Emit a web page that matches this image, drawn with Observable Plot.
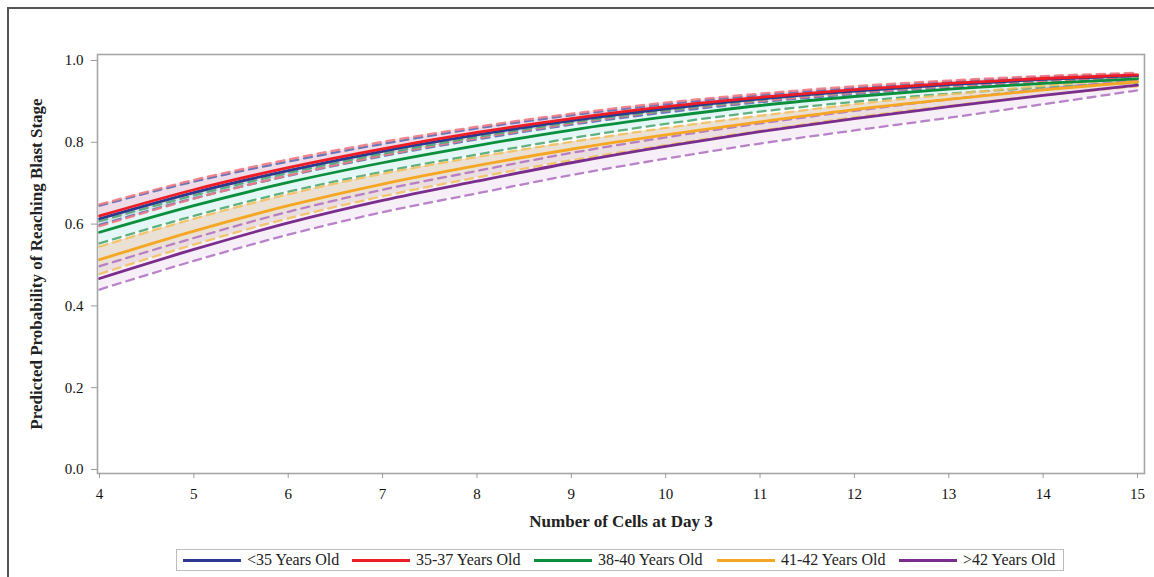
<!DOCTYPE html>
<html>
<head>
<meta charset="utf-8">
<script src="https://cdn.jsdelivr.net/npm/d3@7"></script>
<script src="https://cdn.jsdelivr.net/npm/@observablehq/plot@0.6"></script>
<style>
  html, body { margin: 0; padding: 0; background: #fff; }
  #wrap { position: relative; width: 1154px; height: 577px; overflow: hidden; background: #fff; font-family: 'Liberation Serif', 'Times New Roman', serif; }
  #border { position: absolute; left: 7px; top: 7px; right: -10px; bottom: -10px; border-left: 2px solid #555; border-top: 2px solid #555; }
  #chart { position: absolute; left: 0; top: 0; }
  #legend { position: absolute; left: 176px; top: 549px; width: 888px; height: 22px; border: 1px solid #bdbdbd; box-sizing: border-box; font-size: 16px; color: #222; }
  .item { position: absolute; top: 0; height: 20px; display: flex; align-items: center; white-space: nowrap; }
  .sw { width: 58px; height: 3px; margin-right: 6px; }
</style>
</head>
<body>
<div id="wrap">
  <div id="border"></div>
  <div id="chart"></div>
  <div id="legend"></div>
</div>
<script>
// ---- data ----
const xs = [4, 5, 6, 7, 8, 9, 10, 11, 12, 13, 14, 15];
const xTicks = [4, 5, 6, 7, 8, 9, 10, 11, 12, 13, 14, 15];
const yTicks = [0, 0.2, 0.4, 0.6, 0.8, 1.0];
const groups = ["<35 Years Old", "35-37 Years Old", "38-40 Years Old", "41-42 Years Old", ">42 Years Old"];

const meanLt35  = [0.613, 0.677, 0.731, 0.778, 0.818, 0.853, 0.882, 0.906, 0.925, 0.941, 0.954, 0.963];
const lowerLt35 = [0.598, 0.663, 0.718, 0.766, 0.807, 0.843, 0.873, 0.898, 0.918, 0.935, 0.948, 0.958];
const upperLt35 = [0.645, 0.704, 0.753, 0.796, 0.834, 0.866, 0.893, 0.915, 0.933, 0.948, 0.960, 0.968];

const mean3537  = [0.620, 0.684, 0.738, 0.784, 0.824, 0.858, 0.887, 0.910, 0.929, 0.944, 0.956, 0.965];
const lower3537 = [0.595, 0.662, 0.719, 0.768, 0.810, 0.846, 0.877, 0.901, 0.921, 0.937, 0.950, 0.959];
const upper3537 = [0.648, 0.708, 0.758, 0.801, 0.838, 0.870, 0.897, 0.919, 0.937, 0.951, 0.962, 0.970];

const mean3840  = [0.580, 0.645, 0.702, 0.750, 0.792, 0.830, 0.862, 0.890, 0.912, 0.930, 0.944, 0.955];
const lower3840 = [0.553, 0.620, 0.679, 0.728, 0.770, 0.810, 0.845, 0.875, 0.899, 0.919, 0.934, 0.946];
const upper3840 = [0.607, 0.670, 0.725, 0.772, 0.813, 0.849, 0.878, 0.904, 0.924, 0.940, 0.953, 0.963];

const mean4142  = [0.513, 0.583, 0.645, 0.698, 0.743, 0.783, 0.818, 0.850, 0.880, 0.905, 0.928, 0.948];
const lower4142 = [0.478, 0.550, 0.614, 0.668, 0.714, 0.756, 0.793, 0.828, 0.861, 0.889, 0.915, 0.937];
const upper4142 = [0.545, 0.613, 0.673, 0.723, 0.764, 0.801, 0.835, 0.865, 0.893, 0.917, 0.938, 0.957];

const meanGt42  = [0.467, 0.538, 0.603, 0.658, 0.705, 0.750, 0.790, 0.826, 0.858, 0.887, 0.915, 0.940];
const lowerGt42 = [0.440, 0.510, 0.574, 0.629, 0.675, 0.720, 0.760, 0.797, 0.829, 0.860, 0.893, 0.927];
const upperGt42 = [0.497, 0.566, 0.630, 0.684, 0.730, 0.774, 0.812, 0.846, 0.877, 0.905, 0.930, 0.952];

// ---- styles ----
const lineColors = ["#2b3990", "#ee1c25", "#0a8f3c", "#f5a623", "#7b2d8e"];
const bandColors = ["#c9d0f2", "#f8cfd3", "#cdeeee", "#dccdb8", "#eadcf0"];
const bandOpacity = [0.5, 0.5, 0.55, 0.6, 0.45];
const dashColors = ["#5c6cb8", "#f07a82", "#4fa874", "#f2c060", "#b274c2"];

const series = [
  [meanLt35, lowerLt35, upperLt35],
  [mean3537, lower3537, upper3537],
  [mean3840, lower3840, upper3840],
  [mean4142, lower4142, upper4142],
  [meanGt42, lowerGt42, upperGt42]
];

const rows = [];
series.forEach(([m, lo, hi], gi) => {
  xs.forEach((x, j) => rows.push({group: groups[gi], gi, x, mean: m[j], lo: lo[j], hi: hi[j]}));
});

const marks = [];
groups.forEach((g, gi) => {
  const d = rows.filter(r => r.gi === gi);
  marks.push(Plot.areaY(d, {x: "x", y1: "lo", y2: "hi", fill: bandColors[gi], fillOpacity: bandOpacity[gi], curve: "monotone-x"}));
});
groups.forEach((g, gi) => {
  const d = rows.filter(r => r.gi === gi);
  for (const key of ["lo", "hi"]) {
    marks.push(Plot.lineY(d, {x: "x", y: key, stroke: dashColors[gi], strokeWidth: 2.3, strokeOpacity: 0.9, strokeDasharray: "8,6", curve: "monotone-x"}));
  }
});
groups.forEach((g, gi) => {
  const d = rows.filter(r => r.gi === gi);
  marks.push(Plot.lineY(d, {x: "x", y: "mean", stroke: lineColors[gi], strokeWidth: 2.8, curve: "monotone-x"}));
});

const chart = Plot.plot({
  width: 1154,
  height: 545,
  marginLeft: 97,
  marginRight: 10,
  marginTop: 54,
  marginBottom: 72,
  x: {domain: [4, 15], range: [99, 1137]},
  y: {domain: [0, 1], range: [469, 60]},
  style: {fontFamily: "'Liberation Serif', 'Times New Roman', serif", fontSize: "15px", color: "#222", background: "transparent", overflow: "visible"},
  marks: [
    ...marks,
    Plot.frame({stroke: "#a6a6a6", strokeWidth: 1.6}),
    Plot.axisX({ticks: xTicks, tickSize: 5, tickPadding: 10, stroke: "#9a9a9a", fill: "#111", fontSize: 15, label: null}),
    Plot.axisY({ticks: yTicks, tickFormat: d3.format(".1f"), tickSize: 6, tickPadding: 8, stroke: "#9a9a9a", fill: "#111", fontSize: 15, label: null}),
    Plot.axisX({ticks: [], tickSize: 0, stroke: "none", fill: "#222", fontSize: 17, fontWeight: "bold",
      label: "Number of Cells at Day 3", labelAnchor: "center", labelOffset: 53, labelArrow: "none"}),
    Plot.axisY({ticks: [], tickSize: 0, stroke: "none", fill: "#222", fontSize: 17, fontWeight: "bold",
      label: "Predicted Probability of Reaching Blast Stage", labelAnchor: "center", labelOffset: 68, labelArrow: "none"})
  ]
});
document.getElementById("chart").appendChild(chart);

// ---- legend ----
const legendLeft = [6, 175, 357, 540, 722];
const legend = document.getElementById("legend");
groups.forEach((g, gi) => {
  const it = document.createElement("div");
  it.className = "item";
  it.style.left = legendLeft[gi] + "px";
  const sw = document.createElement("div");
  sw.className = "sw";
  sw.style.background = lineColors[gi];
  const tx = document.createElement("span");
  tx.textContent = g;
  it.appendChild(sw);
  it.appendChild(tx);
  legend.appendChild(it);
});
</script>
</body>
</html>
